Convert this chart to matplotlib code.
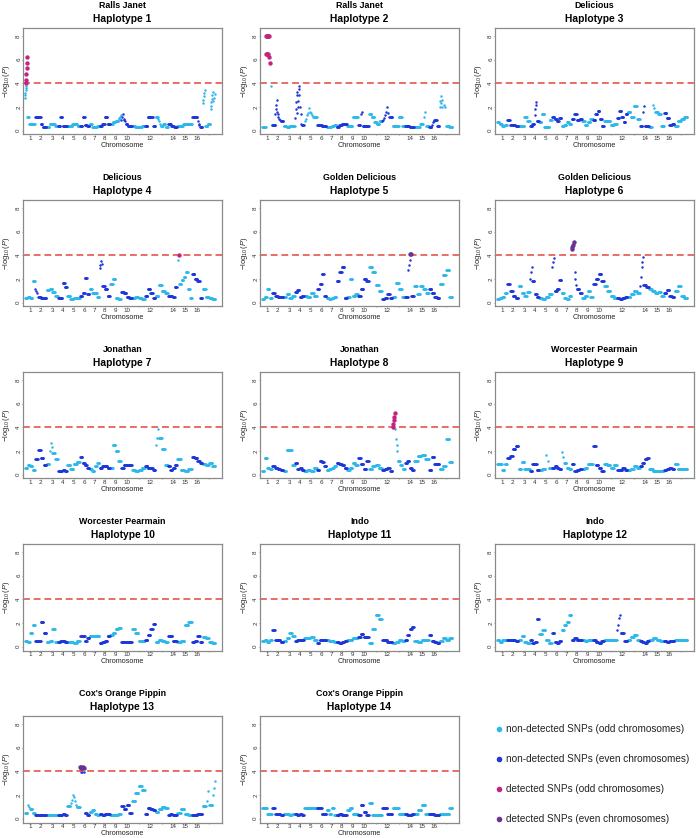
import matplotlib
matplotlib.use("Agg")
import matplotlib.pyplot as plt
import numpy as np

plt.rcParams['font.family'] = ['Liberation Sans', 'DejaVu Sans']
plt.rcParams['mathtext.fontset'] = 'custom'
plt.rcParams['mathtext.rm'] = 'Liberation Sans'
plt.rcParams['mathtext.it'] = 'Liberation Sans:italic'

# SNP count per chromosome (x axis is SNP order)
chrom_len = [10, 11.5, 11.5, 9, 13, 9.5, 10, 10.5, 11, 11, 13, 10.5, 12.5, 9, 15, 10.5, 13]
chrom_labels = ['1', '2', '3', '4', '5', '6', '7', '8', '9', '10', '', '12', '', '14', '15', '16', '']

cultivars = ["Ralls Janet", "Ralls Janet", "Delicious", "Delicious",
             "Golden Delicious", "Golden Delicious", "Jonathan", "Jonathan",
             "Worcester Pearmain", "Worcester Pearmain", "Indo", "Indo",
             "Cox's Orange Pippin", "Cox's Orange Pippin"]

threshold = 4.0

# -log10(P) profile per chromosome: a number is a run of SNPs at that level,
# a list is a group of SNPs read one by one
hap1 = [[[2.8, 3.0, 3.2, 3.4, 3.6, 3.8, 4.0, 4.3, 4.8, 5.3, 5.7, 6.2], 1.2, 0.6, 0.6, 0.6],
        [1.2, 1.2, 1.2, 0.6, 0.3, 0.3], [0.3, 0.6, 0.6, 0.4], [0.4, 1.2, 0.4, 0.4],
        [0.4, 0.4, 0.6, 0.6, 0.4], [0.4, 1.2, 0.5, 0.4], [0.6, 0.3, 0.3, 0.4],
        [0.4, 0.6, 1.2, 0.6], [0.6, 0.7, 0.8, [1.0, 1.1, 1.2, 1.35]],
        [[0.9, 1.2, 1.45], [1.0, 0.9, 0.8], 0.6, 0.4, 0.4], [0.4, 0.3, 0.3, 0.4],
        [0.4, 1.2, 1.2, 0.4], [1.2, [1.0, 0.8, 0.6], 0.4, 0.6, 0.3], [0.6, 0.4, 0.3],
        [0.4, 0.4, 0.6, 0.6, 0.6], [1.2, 1.2, [0.8, 0.6, 0.5], 0.3],
        [[2.3, 2.6, 2.9, 3.2, 3.4], 0.4, 0.6, [1.8, 2.1, 2.4, 2.7, 3.0, 3.3], [2.5, 2.8, 3.1]]]
hap2 = [[0.3, 0.3, [8.0, 6.5, 8.0, 6.5, 8.0, 6.5, 8.0, 6.5], [8.0, 6.2, 8.0, 5.7], [3.8, 0.5]],
        [0.5, [0.5, 1.4, 1.8, 2.2, 2.6, 1.6, 1.4], [1.2, 1.0, 0.9], 0.8],
        [0.4, 0.3, 0.4, 0.4],
        [[1.1, 1.8, 2.4, 3.0, 3.3], [1.5, 2.0, 2.5, 3.0, 3.5, 3.8], [2.0, 1.4, 0.6], 0.5],
        [[0.8, 1.0, 1.3], [1.5, 1.9, 1.6], [1.5, 1.3, 1.2], 1.2],
        [0.5, 0.5, 0.4, 0.4], [0.3, 0.3, 0.4, 0.5], [0.3, 0.5, 0.6, 0.6],
        [0.4, 0.4, 1.2, 1.2], [0.5, [1.4, 1.6], 0.4, 0.4, 0.4], [1.4, 1.2, 0.7, 0.6, 0.8],
        [[0.8, 0.9, 1.1], [1.3, 1.6, 2.0], [1.5, 1.2], 1.2], [0.4, 0.4, 1.2, 0.4],
        [0.4, 0.4, 0.3, 0.3], [0.3, 0.3, 0.6, [1.2, 1.6], 0.4],
        [0.3, [0.5, 0.7, 0.8], 0.9, 0.4],
        [[2.0, 2.5, 2.9, 2.3, 2.0, 2.6], [2.2, 2.0], 0.4, 0.3]]
hap3 = [[0.7, 0.6, 0.4, 0.5], [0.9, 0.5, 0.5, 0.4], [0.4, 0.4, 1.2, 0.8],
        [0.4, 0.6, [1.3, 1.8, 2.2, 2.4], 0.8], [0.7, 1.4, 0.3, 0.3, 0.9],
        [1.2, 1.0, 0.8, 1.1], [0.4, 0.5, 0.7, 0.6], [1.0, 1.4, 0.9, 1.0],
        [0.8, 0.5, 0.7, 1.0], [0.9, 1.4, 1.7, 1.0, 0.4], [0.8, 0.8, 0.5, 0.6],
        [1.1, 1.7, 1.2, 0.7, 1.4], [1.6, 1.2, 2.1, 1.0], [0.4, [1.6, 2.1], 0.4, 0.4],
        [0.3, [2.2, 1.9], 1.6, 1.4, 0.4], [1.5, 1.1, 0.5, 0.6], [0.4, 0.8, 1.0, 1.2]]
hap4 = [[0.4, 0.5, 0.4, 1.8], [[1.2, 1.0, 0.8], 0.5, 0.4, 0.4], [1.1, 1.2, 0.9, 0.6],
        [0.4, 0.4, 1.7, 1.3], [0.6, 0.3, 0.4, 0.4], [0.6, 0.8, 2.1, 0.7],
        [1.2, 0.8, 0.8, 0.5], [[2.9, 3.2, 3.5, 3.3], 1.4, 1.2, 0.6], [1.6, 2.0, 0.4, 0.3],
        [0.9, 0.8, 0.5, 0.4], [0.4, 0.5, 0.4, 0.3], [0.6, 1.2, 0.8, 0.4],
        [0.6, 1.5, 1.0, 0.8], [0.6, 0.6, 0.5, 1.3],
        [[3.6, 4.05], 1.6, 1.9, 2.2, 2.6, 1.2, 0.4], [2.4, 2.0, 1.8, 0.4], [1.2, 0.5, 0.4, 0.3]]
hap5 = [[0.3, 0.5, 1.2, 0.4], [0.8, 0.6, 0.5, 0.5], [0.5, 0.7, 0.4, 0.6],
        [0.9, 1.1, 0.5, 0.6], [0.6, 0.5, 0.8, 0.6], [1.2, 1.6, 2.4, 0.6],
        [0.4, 0.3, 0.4, 0.5], [1.8, 2.6, 3.0, 0.4], [0.5, 2.0, 0.6, 0.7],
        [0.6, 1.2, 2.0, 1.8], [3.0, 2.6, 1.5, 1.0], [0.3, 0.4, 0.7, 0.4],
        [0.5, 1.7, 1.2, 0.5], [0.5, [2.8, 3.2, 3.6, 4.1, 4.15], 0.6],
        [1.4, 0.7, 1.4, 1.2, 0.8], [1.2, 0.8, 0.5, 0.4], [1.6, 2.3, 2.8, 0.5]]
hap6 = [[0.3, 0.4, 0.5, 0.8], [1.6, 1.0, 0.6, 0.4], [1.4, 0.8, 0.6, 0.9],
        [[2.0, 2.6, 3.0], 1.8, 0.7, 0.5], [0.4, 0.3, 0.5, 0.7],
        [[3.0, 3.4, 3.8], 1.0, 1.2, 1.9], [0.8, 0.4, 0.3, 0.6],
        [[4.5, 4.7, 4.9, 5.1], [2.6, 2.0, 1.5], 1.2, 0.8], [0.4, 0.6, 1.0, 0.5],
        [1.6, 2.0, 2.4, 1.8], [1.4, 1.0, 0.6, 0.4], [0.4, 0.3, 0.4, 0.5],
        [0.5, 0.7, 1.0, 0.8], [[1.4, 2.2, 3.0, 3.4, 3.9], 1.5, 1.3],
        [1.2, 1.0, 0.8, 0.9, 0.6], [0.8, 1.1, 0.6, 0.5], [1.0, 1.4, 0.6, 0.4]]
hap7 = [[0.6, 0.8, 0.7, 0.4], [1.3, 2.1, 1.4, 0.8], [0.9, [2.0, 2.7, 2.3], 1.8, 1.3],
        [0.3, 0.3, 0.4, 0.3], [0.8, 0.5, 0.9, 1.1], [1.5, 1.0, 0.8, 0.6],
        [0.5, 0.3, 0.7, 1.0], [0.6, 0.7, 0.7, 0.6], [0.6, 2.5, 2.0, 1.2],
        [0.6, 0.8, 0.8, 0.8], [0.4, 0.3, 0.4, 0.6], [0.7, 0.6, 0.6, 0.4],
        [[2.5, 3.1, 3.9], 3.1, 2.2, 0.8], [0.7, 0.4, 0.6, 0.8], [1.3, 0.4, 0.3, 0.5],
        [1.5, 1.4, 1.2, 1.0], [0.9, 0.8, 1.0, 0.7]]
hap8 = [[0.3, 1.4, 0.6, 0.5], [0.7, 0.6, 0.5, 0.4], [0.3, 2.1, 2.1, 0.8],
        [1.0, 0.5, 0.6, 0.4], [0.3, 0.4, 0.3, 0.6], [0.4, 1.2, 1.1, 0.7],
        [0.4, 0.5, 0.6, 0.7], [1.0, 0.9, 0.8, 0.6], [0.4, 0.6, 1.0, 0.8],
        [1.4, 0.9, 0.5, 1.2], [0.5, 0.7, 0.8, 0.6], [0.4, 0.5, 0.6, 0.3],
        [[4.0, 4.3, 4.6, 4.9, 5.2], [3.9, 3.0, 2.5, 2.0], 1.2, 0.8, 0.5],
        [1.0, 1.2, 0.6, 0.4], [1.2, 1.6, 1.7, 1.3], [0.4, 1.5, 0.9, 0.9],
        [0.5, 0.7, 3.0, 1.1]]
hap9 = [[0.9, 0.9, 0.4, 0.9], [1.4, 1.6, 2.2, 2.4], [0.5, 1.1, 0.5, 0.5],
        [0.3, 0.9, 0.9, 0.4], [0.4, 0.5, [1.7, 1.2], 0.6], [0.6, 0.7, 0.6, 0.5],
        [[1.9, 1.5], 1.0, 0.6, 0.5], [0.9, 0.3, 0.4, 0.5], [0.5, 0.6, 0.9, 0.9],
        [2.4, 0.8, 0.6, 0.3], [0.9, 0.8, 0.6, 0.8], [0.4, 0.4, 0.6, 0.4],
        [0.4, 0.5, 0.7, 0.6], [0.7, 1.0, 1.3, 1.4], [0.5, 0.3, 0.3, 0.3],
        [0.4, 0.5, 0.6, 0.5], [0.9, 0.5, 0.5, 0.5]]
hap10 = [[0.5, 0.4, 1.2, 1.8], [0.5, 0.5, 2.1, 1.2], [0.4, 0.5, 1.5, 0.4],
         [0.4, 0.5, 0.5, 0.4], [0.4, 0.4, 0.3, 0.5], [0.9, 0.9, 0.5, 0.7],
         [0.9, 0.9, 0.9, 0.9], [0.3, 0.4, 0.5, 0.9], [1.0, 1.2, 1.5, 1.6],
         [0.4, 0.4, 0.4, 0.4], [1.5, 1.2, 0.5, 0.5], [0.6, 1.0, 1.5, 1.9],
         [0.4, 0.6, 0.5, 0.4], [0.9, 0.9, 0.5, 0.5], [0.4, 0.5, 1.8, 2.1],
         [0.4, 0.5, 0.9, 0.4], [0.8, 0.7, 0.4, 0.3]]
hap11 = [[0.5, 0.6, 0.4, 0.6], [1.4, 0.6, 0.6, 0.4], [0.5, 0.7, 1.2, 0.9],
         [0.5, 0.6, 0.6, 0.6], [0.7, 0.7, 0.8, 0.6], [0.3, 0.6, 0.6, 0.6],
         [0.6, 0.5, 0.5, 0.4], [0.4, 0.3, 0.4, 0.5], [0.6, 0.6, 0.7, 0.7],
         [0.8, 1.1, 0.8, 0.8], [0.3, 1.5, 2.7, 2.3], [0.6, 0.6, 0.4, 0.4],
         [0.3, 0.4, 0.6, 0.5], [0.6, 1.0, 1.5, 1.7], [0.5, 0.4, 0.6, 0.6],
         [1.0, 0.5, 0.4, 0.3], [0.5, 0.7, 0.6, 0.7]]
hap12 = [[0.6, 0.4, 0.6, 0.6], [0.6, 0.6, 0.6, 0.5], [0.6, 0.9, 0.4, 0.3],
         [0.6, 0.3, 0.4, 2.3], [1.1, 1.4, 0.6, 0.3], [1.2, 0.4, 0.3, 0.5],
         [1.4, 1.8, 2.1, 2.7], [0.6, 0.7, 0.6, 0.6], [0.6, 0.5, 0.6, 0.6],
         [0.6, 0.4, 0.3, 0.5], [0.6, 0.6, 0.6, 0.6], [[1.4, 1.8, 2.4, 2.7], 1.2, 0.5],
         [0.6, 0.8, 1.0, 0.6], [0.5, 0.4, 0.3, 0.5], [0.6, 0.7, 0.6, 0.5],
         [0.5, 0.4, 0.5, 0.5], [0.6, 0.6, 0.6, 0.6]]
hap13 = [[0.5, [1.2, 1.0], 0.8, 0.5], [0.3, 0.3, 0.3, 0.3], [0.3, 0.3, 0.3, 0.3],
         [0.3, 0.3, 0.4, 0.3], [1.1, [1.3, 1.6, 2.0], [1.8, 1.5, 1.2], 1.0],
         [[4.4, 4.3, 3.95, 4.4, 4.3, 3.95], [4.4, 4.3, 3.95], 0.5, 0.3],
         [0.6, 0.7, 0.4, 0.3], [0.4, 0.3, 0.4, 0.4], [0.3, 0.3, 0.3, 0.4],
         [1.1, 0.8, 1.2, 0.5], [1.5, 2.2, 2.8, 2.4], [0.4, 0.9, 0.8, 0.7],
         [0.6, 0.8, 1.0, 0.9], [0.3, 0.4, 0.3, 0.3], [0.5, 0.8, 0.4, 0.3],
         [0.3, 0.3, 0.4, 0.4], [1.1, [1.5, 2.3], 1.2, [2.0, 2.6, 3.2]]]
hap14 = [[0.9, 0.9, 0.4, 0.4], [0.9, 0.4, 0.4, 0.3], [0.4, 0.4, 0.3, 0.4],
         [0.4, 0.3, 0.4, 0.3], [0.9, 0.9, 0.9, 0.9], [0.9, 0.9, 0.4, 0.4],
         [0.7, 0.4, 0.9, 0.3], [0.3, 0.4, 0.3, 0.3], [0.7, 0.9, 0.4, 0.4],
         [0.3, 1.2, 0.6, 0.3], [1.3, 0.3, 0.3, 0.3], [0.9, 0.9, 0.4, 0.4],
         [0.9, 0.9, 0.4, 0.4], [0.4, 0.3, 0.3, 0.4], [0.4, 0.7, 1.2, 0.4],
         [0.4, 0.4, 0.3, 0.3], [0.4, 0.4, 0.4, 0.9]]

haplotypes = [hap1, hap2, hap3, hap4, hap5, hap6, hap7, hap8, hap9, hap10,
              hap11, hap12, hap13, hap14]

col_odd = '#2DB8EA'
col_even = '#1C36D8'
col_det_odd = '#C2257D'
col_det_even = '#6A3192'

starts = np.concatenate([[0], np.cumsum(chrom_len)[:-1]])
centers = starts + np.array(chrom_len) / 2


def expand(profile):
    xs, ys, cs = [], [], []
    for c, blocks in enumerate(profile):
        w = chrom_len[c] / len(blocks)
        for k, b in enumerate(blocks):
            if isinstance(b, list):
                vals = b
            else:
                vals = [b] * max(2, int(round(w / 0.45)))
            n = len(vals)
            x0 = starts[c] + k * w
            xs.extend(x0 + (np.arange(n) + 0.5) / n * w)
            ys.extend(vals)
            cs.extend([c + 1] * n)
    return np.array(xs), np.array(ys), np.array(cs)


W, H = 696, 838
fig = plt.figure(figsize=(W / 100, H / 100), dpi=100)

col_left = [23, 260, 495]
box_w = 199
box_h = 106.5
row_pitch = 172

for i, prof in enumerate(haplotypes):
    r, c = divmod(i, 3)
    left = col_left[c]
    top = 28 + row_pitch * r
    ax = fig.add_axes([left / W, 1 - (top + box_h) / H, box_w / W, box_h / H])
    x, y, ch = expand(prof)
    odd = ch % 2 == 1
    det = y >= threshold
    ax.scatter(x[odd & ~det], y[odd & ~det], s=3.2, c=col_odd, lw=0)
    ax.scatter(x[~odd & ~det], y[~odd & ~det], s=3.2, c=col_even, lw=0)
    ax.axhline(threshold, color='#E2483F', lw=1.1, ls=(0, (4.5, 2.5)), zorder=1)
    ax.scatter(x[odd & det], y[odd & det], s=10, c=col_det_odd, lw=0, zorder=3)
    ax.scatter(x[~odd & det], y[~odd & det], s=10, c=col_det_even, lw=0, zorder=3)
    ax.set_xlim(-2, 197)
    ax.set_ylim(-0.32, 8.68)
    for sp in ax.spines.values():
        sp.set_color('#8a8a8a')
        sp.set_linewidth(0.9)
    ax.set_xticks(centers)
    ax.set_xticklabels(chrom_labels, fontsize=4.5, color='#333333')
    ax.set_yticks([0, 2, 4, 6, 8])
    ax.set_yticklabels(['0', '2', '4', '6', '8'], fontsize=4.5, color='#333333',
                       rotation=90, va='center')
    ax.tick_params(length=0.9, width=0.5, color='#777777', pad=0.4)

    cx = (left + box_w / 2) / W
    fig.text(cx, 1 - (5.7 + row_pitch * r) / H, cultivars[i], ha='center', va='center',
             fontsize=6.4, fontweight='bold')
    fig.text(cx, 1 - (19 + row_pitch * r) / H, f'Haplotype {i + 1}', ha='center',
             va='center', fontsize=7.4, fontweight='bold')
    fig.text(cx, 1 - (145.4 + row_pitch * r) / H, 'Chromosome', ha='center', va='center',
             fontsize=5.2, color='#222222')
    fig.text((left - 16) / W, 1 - (top + box_h / 2) / H, r'$-\log_{10}(P)$', rotation=90,
             ha='center', va='center', fontsize=5.4, color='#222222')

# legend in the empty slot
legend_labels = ['non-detected SNPs (odd chromosomes)', 'non-detected SNPs (even chromosomes)',
                 'detected SNPs (odd chromosomes)', 'detected SNPs (even chromosomes)']
legend_cols = [col_odd, col_even, col_det_odd, col_det_even]
lax = fig.add_axes([0, 0, 1, 1], facecolor='none')
lax.set_xlim(0, W)
lax.set_ylim(H, 0)
lax.axis('off')
for k, (lab, colr) in enumerate(zip(legend_labels, legend_cols)):
    yy = 729 + 30 * k
    lax.scatter([499], [yy], s=16, c=colr, lw=0)
    lax.text(506, yy, lab, va='center', ha='left', fontsize=7.2, color='#222222')

fig.savefig('out.png', dpi=100)
